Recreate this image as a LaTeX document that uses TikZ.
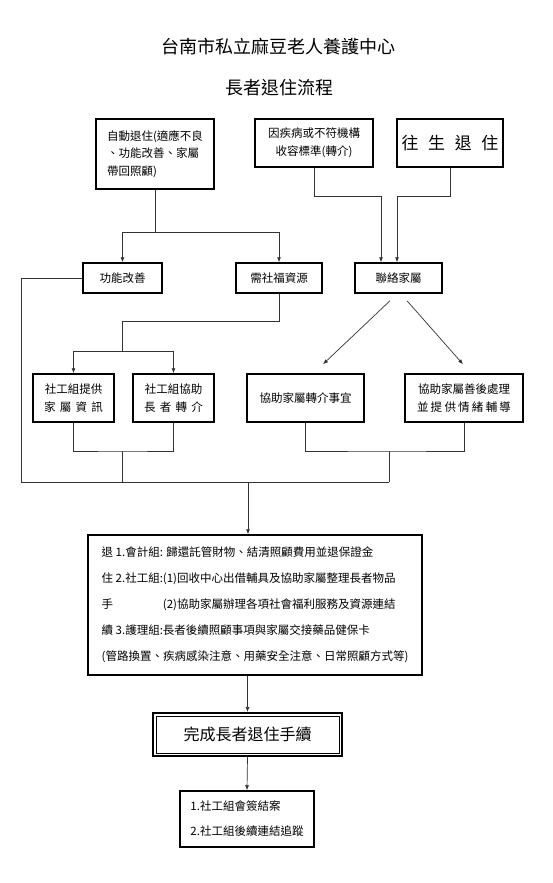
\documentclass[tikz,border=0pt]{standalone}
\usepackage{fontspec}
\setmainfont{Noto Sans CJK TC}
\usetikzlibrary{arrows.meta,calc}

\newcommand{\spread}[2]{\makebox[#1][s]{#2}}

\begin{document}
\begin{tikzpicture}[x=1pt,y=-1pt,
  box/.style={rectangle,draw,line width=1.5pt,inner sep=2pt,
              font=\fontsize{11.5}{17.5}\selectfont,align=center},
  arr/.style={-{Latex[length=5pt,width=4pt]},line width=0.7pt,black!80},
  line/.style={line width=0.7pt,black!80},
  ttl/.style={font=\fontsize{18}{20}\selectfont}]

  \useasboundingbox (0,0) rectangle (553,883);

  \node[ttl] (t1) at (278,47) {台南市私立麻豆老人養護中心};
  \node[ttl] (t2) at (279,88) {長者退住流程};

  % three ways out
  \node[box,minimum width=118pt,minimum height=70pt,align=left] (auto) at (155,154)
    {自動退住(適應不良\\、功能改善、家屬\\帶回照顧)};
  \node[box,minimum width=118pt,minimum height=48pt] (refer) at (314,143)
    {因疾病或不符機構\\收容標準(轉介)};
  \node[box,minimum width=106pt,minimum height=48pt,font=\fontsize{17}{20}\selectfont] (death) at (450,143)
    {\spread{97pt}{往\hfill 生\hfill 退\hfill 住}};

  \node[box,minimum width=79pt,minimum height=30pt] (func) at (122.5,278) {功能改善};
  \node[box,minimum width=86pt,minimum height=30pt] (res) at (279,278) {需社福資源};
  \node[box,minimum width=87pt,minimum height=30pt] (contact) at (398.5,278) {聯絡家屬};

  \node[box,minimum width=81pt,minimum height=48pt] (info) at (73.5,398)
    {社工組提供\\\spread{59pt}{家\hfill 屬\hfill 資\hfill 訊}};
  \node[box,minimum width=81pt,minimum height=48pt] (help) at (173.5,398)
    {社工組協助\\\spread{59pt}{長\hfill 者\hfill 轉\hfill 介}};
  \node[box,minimum width=117pt,minimum height=48pt] (trans) at (305.5,398) {協助家屬轉介事宜};
  \node[box,minimum width=118pt,minimum height=48pt] (after) at (464,398)
    {協助家屬善後處理\\\spread{94pt}{並\hfill 提\hfill 供\hfill 情\hfill 緒\hfill 輔\hfill 導}};

  \node[box,minimum width=334pt,minimum height=140pt,align=left,
        font=\fontsize{11.5}{26}\selectfont] (main) at (255,605)
    {退 1.會計組: 歸還託管財物、結清照顧費用並退保證金\\
     住 2.社工組:(1)回收中心出借輔具及協助家屬整理長者物品\\
     \rlap{手}\phantom{住 2.社工組:}(2)協助家屬辦理各項社會福利服務及資源連結\\
     續 3.護理組:長者後續照顧事項與家屬交接藥品健保卡\\
     (管路換置、疾病感染注意、用藥安全注意、日常照顧方式等)};

  \node[box,minimum width=189pt,minimum height=43pt,line width=2pt,
        font=\fontsize{16}{18}\selectfont] (done) at (247.5,734.5) {完成長者退住手續};
  \draw[line width=0.6pt] ([shift={(4pt,4pt)}]done.south west) rectangle ([shift={(-4pt,-4pt)}]done.north east);

  \node[box,minimum width=134pt,minimum height=56pt,align=left,
        font=\fontsize{11.5}{25}\selectfont] (close) at (247,819)
    {1.社工組會簽結案\\2.社工組後續連結追蹤};

  % joints
  \coordinate (jauto) at (156,232);
  \coordinate (jrefer) at (381,196);
  \coordinate (jdeath) at (397,196);
  \coordinate (jres) at (122,321);
  \coordinate (jres2) at (122,351);
  \coordinate (jde) at (122,451);
  \coordinate (jfg) at (389,451);
  \coordinate (lbus) at (21,482);
  \coordinate (rbus) at (389,482);
  \coordinate (jmain) at (248,482);

  \draw[line] (auto.south) -- (auto.south |- jauto);
  \draw[arr] (auto.south |- jauto) -| (func.north);
  \draw[arr] (auto.south |- jauto) -| (res.north);
  \draw[arr] (refer.south) |- (jrefer) -- (jrefer |- contact.north);
  \draw[arr] (death.south) |- (jdeath) -- (jdeath |- contact.north);

  \draw[line] (res.south) |- (jres) -- (jres2);
  \draw[arr] (jres2) -| (info.north);
  \draw[arr] (jres2) -| (help.north);

  \draw[arr] ([xshift=-8.5pt,yshift=-7pt]contact.south) -- ([xshift=17.5pt,yshift=9pt]trans.north);
  \draw[arr] ([xshift=8.5pt,yshift=-7pt]contact.south) -- ([xshift=-1pt,yshift=9pt]after.north);

  \draw[line] (func.west) -| (lbus) -- (rbus);
  \draw[line] (info.south) |- (jde) -| (help.south);
  \draw[line] (jde) -- (jde |- lbus);
  \draw[line] (trans.south) |- (jfg) -| (after.south);
  \draw[line] (jfg) -- (rbus);
  \draw[arr] (jmain) -- (jmain |- main.north);

  \draw[arr] (done.north |- main.south) -- (done.north);
  \draw[arr] (done.south) -- (close.north);
\end{tikzpicture}
\end{document}
